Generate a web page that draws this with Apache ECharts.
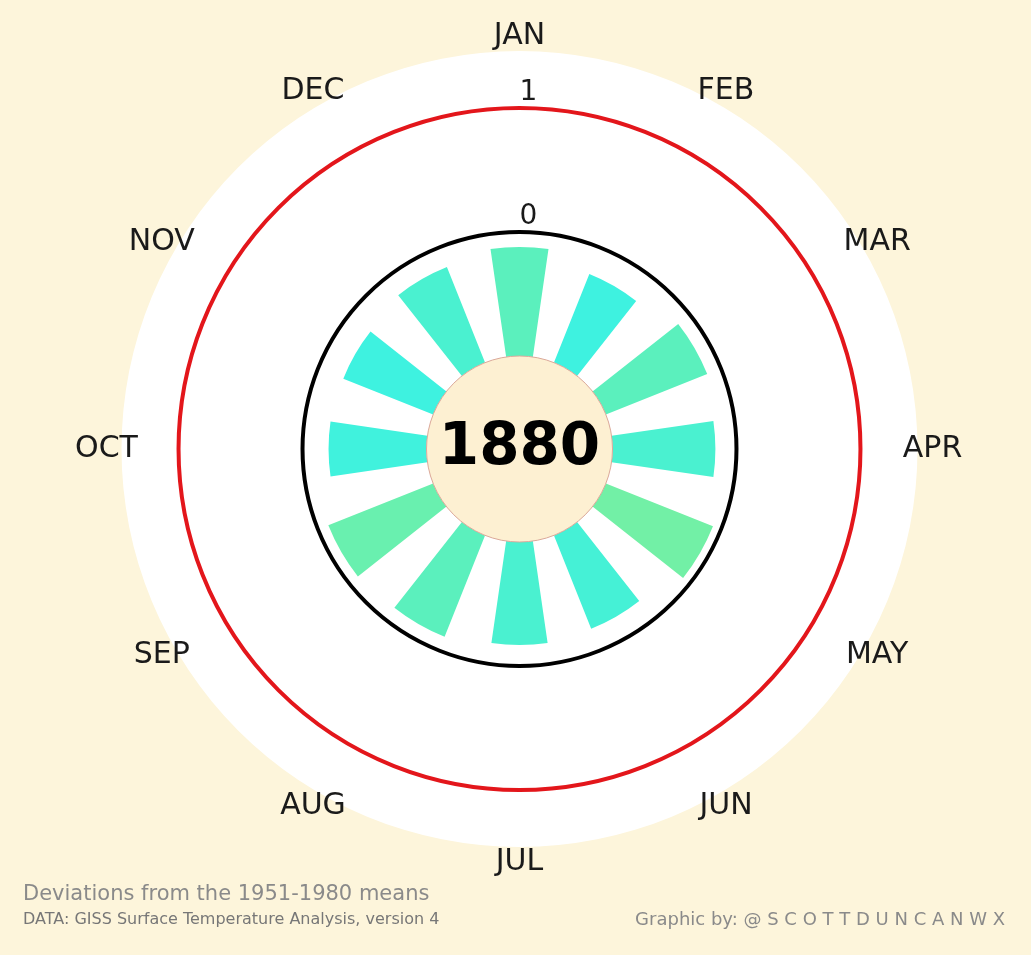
<!DOCTYPE html>
<html>
<head>
<meta charset="utf-8">
<script src="https://cdn.jsdelivr.net/npm/echarts@6/dist/echarts.min.js"></script>
<style>
  html, body { margin: 0; padding: 0; background: #fdf5db; }
  #chart { width: 1031px; height: 955px; }
</style>
</head>
<body>
<div id="chart"></div>
<script>
// monthly temperature deviations (degC) for the year shown
const months = ['JAN', 'FEB', 'MAR', 'APR', 'MAY', 'JUN', 'JUL', 'AUG', 'SEP', 'OCT', 'NOV', 'DEC'];
const anomalies = [-0.12, -0.23, -0.12, -0.17, -0.07, -0.19, -0.17, -0.12, -0.09, -0.21, -0.22, -0.17];
const year = '1880';
const ringLabels = [0, 1];

// radial scale: inner hole sits at -1, white disc ends at 1.46
const rMin = -1;
const rMax = 1.46;
const center = [519.5, 449];
const innerR = 93;
const outerR = 398;
const monthGap = 15; // px between disc edge and month label centre
const font = 'DejaVu Sans';

// bars start at the inner hole, so shift everything by -rMin
const span = rMax - rMin;
const shifted = anomalies.map(v => v - rMin);
const labelR = span + monthGap * span / (outerR - innerR);

const chart = echarts.init(document.getElementById('chart'));

const option = {
  backgroundColor: '#fdf5db',
  animation: false,
  polar: [
    { center: center, radius: [innerR, outerR] },
    { center: center, radius: [innerR, outerR] }
  ],
  angleAxis: [
    {
      polarIndex: 0,
      type: 'category',
      data: months,
      startAngle: 105,
      clockwise: true,
      axisLine: { show: false },
      axisTick: { show: false },
      splitLine: { show: false },
      axisLabel: { show: false }
    },
    {
      polarIndex: 1,
      type: 'value',
      min: 0,
      max: 360,
      startAngle: 90,
      show: false
    }
  ],
  radiusAxis: [
    {
      polarIndex: 0,
      type: 'value',
      min: 0,
      max: span,
      interval: 1,
      axisLine: { show: false },
      axisTick: { show: false },
      axisLabel: { show: false },
      splitLine: { show: false },
      splitArea: { show: true, areaStyle: { color: ['#ffffff'] } }
    },
    {
      polarIndex: 1,
      type: 'value',
      min: 0,
      max: span,
      interval: 1,
      z: 3,
      axisLine: { show: false },
      axisTick: { show: false },
      splitLine: {
        show: true,
        lineStyle: { color: ['rgba(0,0,0,0)', '#000000', '#e3161b', 'rgba(0,0,0,0)'], width: 4 }
      },
      axisLabel: {
        fontSize: 28,
        color: '#1a1a1a',
        fontFamily: font,
        margin: -9,
        align: 'center',
        verticalAlign: 'bottom',
        padding: [0, 0, 1, 0],
        formatter: function (v) {
          const real = Math.round((v + rMin) * 100) / 100;
          return ringLabels.indexOf(real) >= 0 ? String(real) : '';
        }
      }
    }
  ],
  visualMap: {
    show: false,
    type: 'continuous',
    seriesIndex: 0,
    dimension: 0,
    min: -0.22 - rMin,
    max: -0.07 - rMin,
    inRange: { color: ['#3ef2e0', '#50f0c8', '#72f0a6'] }
  },
  series: [
    {
      type: 'bar',
      coordinateSystem: 'polar',
      polarIndex: 0,
      data: shifted,
      barWidth: '55%',
      silent: true
    },
    {
      type: 'pie',
      center: center,
      radius: [0, innerR],
      silent: true,
      emphasis: { disabled: true },
      label: {
        position: 'center',
        formatter: year,
        fontSize: 58,
        fontWeight: 'bold',
        color: '#000',
        fontFamily: font
      },
      labelLine: { show: false },
      itemStyle: { color: '#fdf0d2', borderColor: '#dba99b', borderWidth: 1 },
      data: [{ value: 1, name: year }]
    },
    {
      // month names, centred on a ring just outside the white disc
      type: 'scatter',
      coordinateSystem: 'polar',
      polarIndex: 0,
      clip: false,
      silent: true,
      symbolSize: 0,
      itemStyle: { opacity: 1 },
      data: months.map(m => [labelR, m]),
      label: {
        show: true,
        position: 'inside',
        formatter: p => months[p.dataIndex],
        fontSize: 30,
        color: '#1a1a1a',
        opacity: 1,
        fontFamily: font
      }
    }
  ],
  graphic: [
    {
      type: 'text', left: 23, top: 884,
      style: { text: 'Deviations from the 1951-1980 means', fontSize: 21, fill: '#8a8a8a', fontFamily: font }
    },
    {
      type: 'text', left: 23, top: 912,
      style: { text: 'DATA: GISS Surface Temperature Analysis, version 4', fontSize: 16, fill: '#777777', fontFamily: font }
    },
    {
      type: 'text', right: 26, top: 911,
      style: { text: 'Graphic by: @ S C O T T D U N C A N W X', fontSize: 18, fill: '#8a8a8a', fontFamily: font }
    }
  ]
};

chart.setOption(option);
</script>
</body>
</html>
